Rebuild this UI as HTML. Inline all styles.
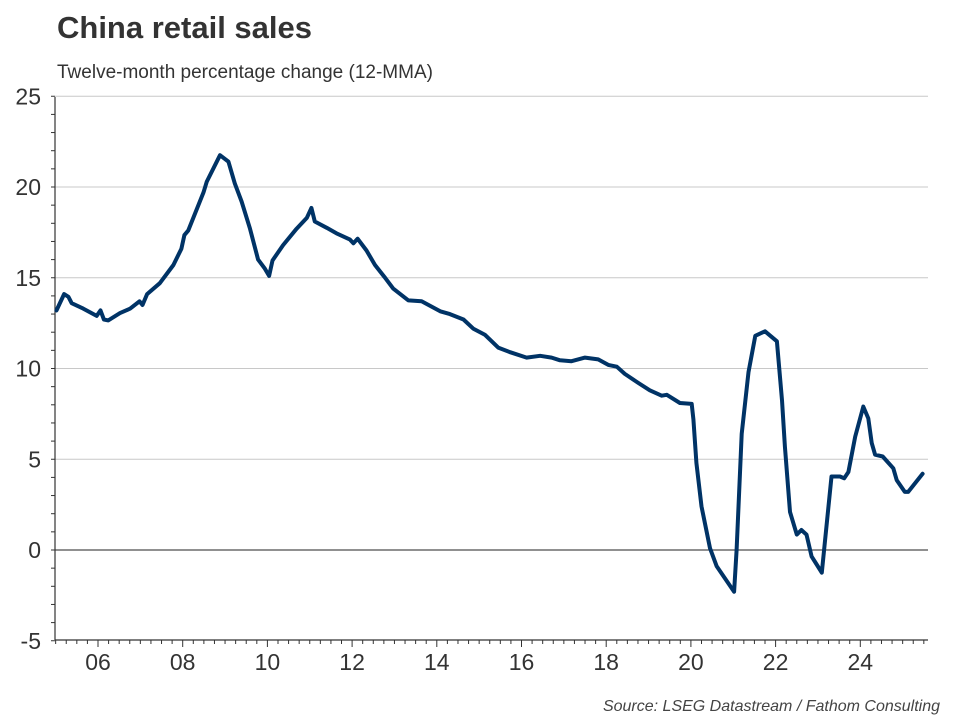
<!DOCTYPE html>
<html><head><meta charset="utf-8"><style>
html,body{margin:0;padding:0;background:#fff;width:960px;height:720px;overflow:hidden}
svg{display:block;font-family:"Liberation Sans",Arial,sans-serif}
</style></head><body>
<svg id="chart" width="960" height="720">
<text x="57" y="38" font-size="31" font-weight="bold" fill="#333">China retail sales</text>
<text x="57" y="78" font-size="19" fill="#333">Twelve-month percentage change (12-MMA)</text>
<text x="940" y="711" font-size="16" font-style="italic" fill="#444" text-anchor="end">Source: LSEG Datastream / Fathom Consulting</text>
<g id="grid"></g>
<g id="axes"></g>
<path id="line" fill="none" stroke="#003366" stroke-width="4" stroke-linejoin="round" stroke-linecap="round"></path>
</svg>
<script>
const dates=[2005.02,2005.2,2005.3,2005.38,2005.65,2005.97,2006.06,2006.14,2006.24,2006.52,2006.76,2006.98,2007.05,2007.16,2007.46,2007.78,2007.97,2008.04,2008.13,2008.49,2008.57,2008.88,2009.08,2009.23,2009.39,2009.59,2009.78,2009.94,2010.04,2010.12,2010.37,2010.69,2010.93,2011.04,2011.12,2011.4,2011.63,2011.95,2012.03,2012.13,2012.34,2012.54,2012.78,2012.97,2013.33,2013.64,2014.08,2014.31,2014.63,2014.86,2015.14,2015.45,2015.73,2016.12,2016.44,2016.71,2016.91,2017.18,2017.5,2017.81,2018.05,2018.25,2018.44,2018.76,2019.03,2019.31,2019.43,2019.74,2020.02,2020.06,2020.13,2020.25,2020.45,2020.61,2020.8,2021.02,2021.08,2021.2,2021.36,2021.52,2021.75,2022.03,2022.15,2022.22,2022.34,2022.5,2022.61,2022.73,2022.85,2022.97,2023.09,2023.32,2023.52,2023.62,2023.72,2023.88,2024.07,2024.19,2024.27,2024.35,2024.53,2024.78,2024.86,2025.05,2025.13,2025.47];
const values=[13.2,14.1,13.95,13.6,13.3,12.9,13.2,12.7,12.65,13.05,13.3,13.7,13.5,14.1,14.7,15.7,16.6,17.35,17.6,19.7,20.3,21.75,21.4,20.2,19.2,17.7,16.0,15.5,15.1,15.95,16.8,17.7,18.3,18.85,18.1,17.75,17.45,17.1,16.9,17.15,16.5,15.7,15.0,14.4,13.75,13.7,13.15,13.0,12.7,12.2,11.85,11.15,10.9,10.6,10.7,10.6,10.45,10.4,10.6,10.5,10.2,10.1,9.7,9.2,8.8,8.5,8.55,8.1,8.05,7.2,4.8,2.4,0.1,-0.9,-1.55,-2.3,0,6.4,9.8,11.8,12.05,11.5,8.25,5.7,2.1,0.85,1.1,0.85,-0.35,-0.8,-1.25,4.05,4.05,3.95,4.3,6.25,7.9,7.25,5.9,5.25,5.15,4.5,3.85,3.2,3.2,4.2];
const yTicks=[-5,0,5,10,15,20,25];
const xTickYears=[2006,2008,2010,2012,2014,2016,2018,2020,2022,2024];
const xTickLabels=["06","08","10","12","14","16","18","20","22","24"];
const X0=55,X1=928,Y0=640,Y1=97;
const x=t=>98+(t-2006)*42.35;
const y=v=>550-v*18.15;
const NS="http://www.w3.org/2000/svg";
function mk(tag,attrs,parent){const e=document.createElementNS(NS,tag);for(const k in attrs)e.setAttribute(k,attrs[k]);parent.appendChild(e);return e;}
const grid=document.getElementById('grid'),axes=document.getElementById('axes');
yTicks.forEach(v=>{
  if(v!==-5&&v!==0){const g=mk('line',{x1:X0,x2:X1,y1:y(v),y2:y(v),stroke:'#c8c8c8','stroke-width':1},grid);
  
  }
  const t=mk('text',{x:41,y:y(v)+8,'font-size':23,fill:'#333','text-anchor':'end'},axes);t.textContent=v;
  
  
});
for(let v=-5;v<=25;v++){mk('line',{x1:X0-4,x2:X0,y1:y(v),y2:y(v),stroke:'#333','stroke-width':1},axes);}
const z=mk('line',{x1:X0,x2:X1,y1:y(0),y2:y(0),stroke:'#222','stroke-width':1},axes);


const ya=mk('line',{x1:X0,x2:X0,y1:Y1,y2:Y0,stroke:'#333','stroke-width':1.2},axes);


const xa=mk('line',{x1:X0,x2:X1,y1:Y0,y2:Y0,stroke:'#333','stroke-width':1.2},axes);


for(let q=2005;q<=2025.6;q+=0.25){const px=x(q);if(px>X1)break;const major=Math.abs(q-Math.round(q))<0.01&&Math.round(q)%2===0;
  mk('line',{x1:px,x2:px,y1:Y0,y2:Y0+(major?7:4),stroke:'#333','stroke-width':1},axes);}
xTickYears.forEach((yr,i)=>{const t=mk('text',{x:x(yr),y:Y0+30,'font-size':23,fill:'#333','text-anchor':'middle'},axes);t.textContent=xTickLabels[i];
  
  });
document.getElementById('line').setAttribute('d',dates.map((d,i)=>(i?'L':'M')+x(d).toFixed(1)+','+y(values[i]).toFixed(1)).join(''));
</script>
</body></html>
